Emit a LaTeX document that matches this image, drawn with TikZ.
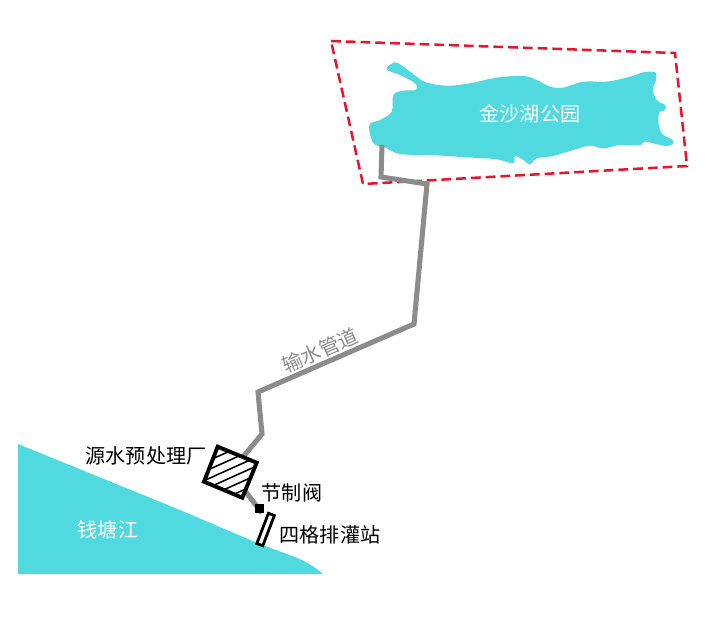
\documentclass[tikz,border=0pt]{standalone}
\usepackage{fontspec}
\setmainfont{Noto Sans CJK SC}
\definecolor{lakecolor}{HTML}{50D9DE}
\definecolor{pipecolor}{HTML}{8C8C8C}
\definecolor{borderred}{HTML}{E6162D}
\tikzset{
    waterlabel/.style={text=white, font=\fontsize{14.3}{14.3}\selectfont, inner sep=0pt},
    placelabel/.style={text=black, font=\fontsize{14.3}{14.3}\selectfont, inner sep=0pt},
    pipeline/.style={draw=pipecolor, line width=3.6pt, line join=miter},
    structure/.style={draw=black, line width=2.8pt, line join=miter}
}
\begin{document}
\begin{tikzpicture}[x=0.025cm, y=-0.025cm]
    \useasboundingbox (0, 0) rectangle (720, 623);

    \fill[lakecolor] (18, 444) -- (180, 510) -- (255, 542) .. controls (290, 556) and (305, 558) .. (323, 574) -- (18, 574) -- cycle;
    \fill[lakecolor, shift={(320, 30)}, scale=1/3] plot[smooth cycle, tension=0.6] coordinates {
        (200,118) (225,97) (250,110) (290,140) (320,158) (380,167) (450,160) (530,143)
        (610,138) (650,150) (690,170) (730,173) (790,155) (860,155) (930,140) (970,127)
        (1005,127) (1008,150) (998,180) (1012,212) (1035,225) (1035,240) (1017,250) (1017,290)
        (1030,315) (1058,330) (1055,345) (1030,347) (975,335) (960,345) (900,345) (850,355)
        (810,347) (760,360) (700,378) (650,385) (630,403) (610,390) (585,378) (580,400)
        (530,388) (440,382) (330,375) (240,372) (190,350) (160,340) (148,285) (180,270)
        (215,245) (220,195) (250,182) (287,180) (285,160) (240,135)};

    \draw[borderred, line width=1.8pt, dash pattern=on 7pt off 3.5pt] (331, 41) -- (675, 53) -- (687, 166) -- (363, 184) -- cycle;

    \coordinate (intake) at (382, 145);
    \coordinate (bend1) at (381, 177);
    \coordinate (bend2) at (427, 184);
    \coordinate (bend3) at (414, 324);
    \coordinate (bend4) at (258, 392);
    \coordinate (bend5) at (262, 434);
    \coordinate (plant) at (230.5, 472);
    \coordinate (outlet) at (262, 513);
    \draw[pipeline] (intake) -- (bend1) -- (bend2) -- (bend3) -- (bend4) -- (bend5) -- (plant);
    \draw[pipeline] (plant) -- (outlet);

    \coordinate (p1) at (217.7, 446.7);
    \coordinate (p2) at (256.7, 462.7);
    \coordinate (p3) at (242.3, 497.7);
    \coordinate (p4) at (204, 481.7);
    \fill[white] (p1) -- (p2) -- (p3) -- (p4) -- cycle;
    \begin{scope}
        \clip (p1) -- (p2) -- (p3) -- (p4) -- cycle;
        \foreach \y in {460, 469, ..., 532} {
            \draw[black, line width=1.1pt] (190, \y) -- (270, \y - 36);
        }
    \end{scope}
    \draw[structure] (p1) -- (p2) -- (p3) -- (p4) -- cycle;

    \node[fill=black, minimum size=6.2pt, inner sep=0pt] (valve) at (259.5, 508.5) {};
    \node[draw=black, fill=white, line width=2pt, minimum width=23pt, minimum height=4.5pt, inner sep=0pt, rotate=69] (station) at (265.6, 529.5) {};

    \node[waterlabel] (lake) at (530, 114) {金沙湖公园};
    \node[waterlabel] (river) at (108, 530) {钱塘江};
    \node[placelabel, text=pipecolor, rotate=23.5] (pipe) at (320, 350) {输水管道};
    \node[placelabel] (plantname) at (146, 456) {源水预处理厂};
    \node[placelabel] (valvename) at (292, 493) {节制阀};
    \node[placelabel] (stationname) at (330, 535) {四格排灌站};
\end{tikzpicture}
\end{document}
